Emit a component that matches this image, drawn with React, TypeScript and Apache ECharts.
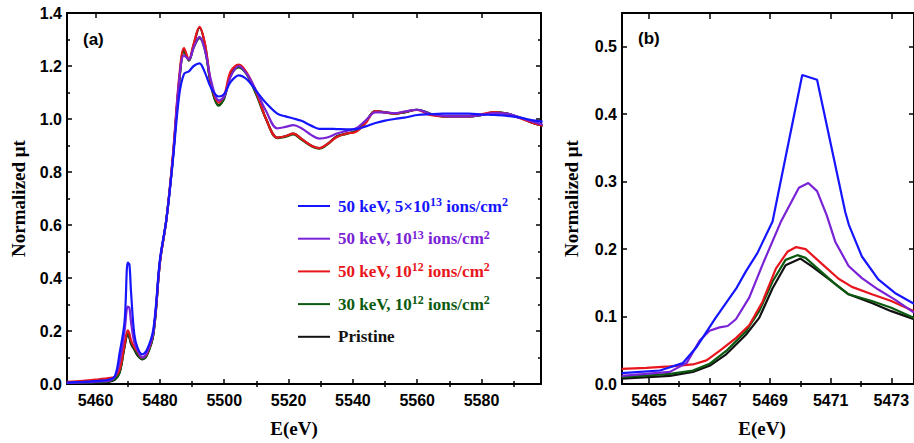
import React, { useEffect, useRef } from "react";
import * as echarts from "echarts";

const SERIF = "'Liberation Serif', 'Times New Roman', serif";
const SANS = "'Liberation Sans', Arial, sans-serif";

// Sample legend labels; "^" marks a superscript run
const seriesLabels = [
  "50 keV, 5×10^13 ions/cm^2",
  "50 keV, 10^13 ions/cm^2",
  "50 keV, 10^12 ions/cm^2",
  "30 keV, 10^12 ions/cm^2",
  "Pristine",
];
const seriesColors = ["#1515ff", "#7a22d6", "#e8161c", "#0c5a10", "#111111"];

// Panel (a): full XANES spectra on a shared energy grid (eV)
const energyA = [
  5451, 5456, 5461, 5464, 5466, 5467.5, 5469, 5470, 5470.5, 5471, 5472, 5473, 5474.5, 5476, 5478,
  5480, 5482, 5484, 5486, 5487.5, 5489, 5490.5, 5492.3, 5494, 5496, 5498.3, 5500, 5502, 5504.5,
  5507, 5510, 5513, 5516.5, 5519, 5521.5, 5524, 5527, 5529.5, 5532, 5535, 5538, 5541, 5544, 5547,
  5550, 5553, 5556, 5560, 5564, 5568, 5572, 5576, 5580, 5584, 5588, 5592, 5596, 5599,
];
const fullBlue = [
  0.005, 0.008, 0.012, 0.016, 0.03, 0.12, 0.235, 0.458, 0.451, 0.35, 0.19, 0.138, 0.112, 0.13, 0.21,
  0.47, 0.62, 0.84, 1.09, 1.17, 1.18, 1.2, 1.21, 1.175, 1.115, 1.085, 1.095, 1.14, 1.165,
  1.15, 1.105, 1.06, 1.02, 1.01, 1.002, 0.993, 0.975, 0.963, 0.963, 0.962, 0.961, 0.962, 0.972, 0.985,
  0.994, 1.0, 1.005, 1.015, 1.018, 1.02, 1.02, 1.02, 1.017, 1.015, 1.012, 1.005, 0.995, 0.99,
];
const fullPurple = [
  0.004, 0.006, 0.009, 0.012, 0.028, 0.086, 0.2, 0.292, 0.288, 0.235, 0.158, 0.128, 0.1, 0.12, 0.2,
  0.46, 0.62, 0.85, 1.15, 1.24, 1.225, 1.27, 1.31, 1.26, 1.14, 1.07, 1.085, 1.16, 1.2,
  1.17, 1.105, 1.03, 0.965, 0.97, 0.977, 0.965, 0.94, 0.926, 0.93, 0.945, 0.955, 0.965, 0.995, 1.025,
  1.025, 1.022, 1.028, 1.035, 1.02, 1.012, 1.01, 1.01, 1.015, 1.022, 1.02, 1.005, 0.99, 0.978,
];
const fullRed = [
  0.008, 0.012, 0.018, 0.022, 0.028, 0.055, 0.15, 0.202, 0.19, 0.165, 0.14, 0.123, 0.1, 0.115, 0.2,
  0.46, 0.62, 0.86, 1.16, 1.268, 1.225, 1.285, 1.348, 1.285, 1.13, 1.062, 1.09, 1.18, 1.205,
  1.175, 1.1, 1.0, 0.93, 0.935, 0.945, 0.925, 0.9, 0.89, 0.905, 0.932, 0.945, 0.952, 0.985, 1.03,
  1.025, 1.02, 1.027, 1.034, 1.015, 1.01, 1.01, 1.01, 1.018, 1.026, 1.018, 1.003, 0.985, 0.975,
];
const fullGreen = [
  0.004, 0.006, 0.007, 0.009, 0.018, 0.045, 0.145, 0.19, 0.178, 0.158, 0.133, 0.114, 0.095, 0.11, 0.19,
  0.46, 0.62, 0.85, 1.14, 1.255, 1.222, 1.27, 1.305, 1.26, 1.125, 1.05, 1.078, 1.165, 1.195,
  1.168, 1.09, 1.0, 0.928, 0.932, 0.942, 0.922, 0.898, 0.888, 0.903, 0.933, 0.944, 0.955, 0.99, 1.03,
  1.025, 1.02, 1.025, 1.035, 1.02, 1.01, 1.01, 1.01, 1.015, 1.025, 1.02, 1.005, 0.985, 0.975,
];
const fullBlack = [
  0.005, 0.006, 0.007, 0.008, 0.016, 0.045, 0.14, 0.186, 0.175, 0.152, 0.13, 0.108, 0.093, 0.11, 0.19,
  0.46, 0.62, 0.85, 1.14, 1.262, 1.22, 1.28, 1.345, 1.28, 1.12, 1.052, 1.08, 1.17, 1.2,
  1.17, 1.1, 1.0, 0.93, 0.935, 0.945, 0.925, 0.9, 0.89, 0.905, 0.935, 0.945, 0.955, 0.99, 1.03,
  1.025, 1.02, 1.025, 1.035, 1.02, 1.01, 1.01, 1.01, 1.015, 1.025, 1.02, 1.005, 0.985, 0.975,
];

// Panel (b): pre-edge region, [energy eV, normalized µt]
const zoomBlue = [
  [5464.1, 0.016], [5465.36, 0.02], [5466.12, 0.031], [5466.56, 0.054], [5467.2, 0.098],
  [5467.9, 0.143], [5468.2, 0.167], [5468.58, 0.194], [5469.08, 0.241], [5470.06, 0.458],
  [5470.55, 0.451], [5471.48, 0.255], [5471.6, 0.236], [5472.03, 0.189], [5472.57, 0.155],
  [5473.12, 0.135], [5473.75, 0.119],
];
const zoomPurple = [
  [5464.1, 0.012], [5465.69, 0.018], [5466.24, 0.031], [5466.67, 0.064], [5467.0, 0.079],
  [5467.33, 0.084], [5467.6, 0.086], [5467.87, 0.096], [5468.31, 0.128], [5468.75, 0.177],
  [5469.35, 0.24], [5469.95, 0.291], [5470.26, 0.298], [5470.55, 0.286], [5470.87, 0.25],
  [5471.15, 0.211], [5471.59, 0.175], [5472.03, 0.157], [5472.57, 0.14], [5473.12, 0.125],
  [5473.75, 0.106],
];
const zoomRed = [
  [5464.1, 0.0225], [5464.92, 0.024], [5465.69, 0.026], [5466.45, 0.029], [5466.9, 0.035],
  [5467.33, 0.049], [5467.87, 0.068], [5468.31, 0.087], [5468.75, 0.122], [5469.19, 0.171],
  [5469.57, 0.196], [5469.86, 0.203], [5470.17, 0.2], [5470.71, 0.178], [5471.26, 0.156],
  [5471.7, 0.144], [5472.36, 0.133], [5473.0, 0.123], [5473.75, 0.108],
];
const zoomGreen = [
  [5464.1, 0.01], [5465.69, 0.015], [5466.45, 0.02], [5467.0, 0.03], [5467.55, 0.049],
  [5468.2, 0.078], [5468.64, 0.108], [5469.08, 0.152], [5469.51, 0.184], [5469.9, 0.191],
  [5470.17, 0.187], [5470.6, 0.17], [5471.15, 0.148], [5471.59, 0.133], [5472.36, 0.123],
  [5473.0, 0.113], [5473.75, 0.098],
];
const zoomBlack = [
  [5464.1, 0.008], [5465.69, 0.012], [5466.45, 0.018], [5467.0, 0.027], [5467.55, 0.044],
  [5468.2, 0.073], [5468.64, 0.098], [5469.08, 0.142], [5469.51, 0.176], [5470.0, 0.186],
  [5470.39, 0.174], [5471.04, 0.152], [5471.59, 0.133], [5472.36, 0.12], [5473.0, 0.108],
  [5473.75, 0.096],
];

// Axis ticks and labels
const ticksA = [5460, 5480, 5500, 5520, 5540, 5560, 5580];
const minorTicksA = [5470, 5490, 5510, 5530, 5550, 5570, 5590];
const ticksB = [5465, 5467, 5469, 5471, 5473];
const minorTicksB = [5466, 5468, 5470, 5472];
const yTicksB = [0, 0.1, 0.2, 0.3, 0.4, 0.5];

const fullSets = [fullBlue, fullPurple, fullRed, fullGreen, fullBlack];
const zoomSets = [zoomBlue, zoomPurple, zoomRed, zoomGreen, zoomBlack];

const nameStyle = { fontFamily: SERIF, fontWeight: "bold", fontSize: 19, color: "#000" };
const tickLabel = { color: "#000", fontFamily: SANS, fontWeight: "bold", fontSize: 16 };
const axisLineStyle = { color: "#000", width: 2 };
const tickLineStyle = { color: "#000", width: 1.5 };

function xAxis(
  gridIndex: number, min: number, max: number, position: "top" | "bottom",
  ticks: number[], len: number, labels?: number[], name?: string, shift = 0
) {
  return {
    type: "value", gridIndex, min, max, position,
    axisLine: { show: true, onZero: false, lineStyle: axisLineStyle },
    axisTick: { show: true, inside: true, length: len, customValues: ticks, lineStyle: tickLineStyle },
    axisLabel: labels
      ? { show: true, customValues: labels, margin: 8, ...tickLabel, formatter: (v: number) => String(v) }
      : { show: false },
    splitLine: { show: false },
    name: name || "",
    nameLocation: "middle",
    nameGap: 35,
    nameTextStyle: { ...nameStyle, padding: [0, shift, 0, 0] },
  };
}

const App: React.FC = () => {
  const ref = useRef<HTMLDivElement>(null);

  useEffect(() => {
    if (!ref.current) return;
    const chart = echarts.init(ref.current, undefined, { renderer: "svg" });
    const order = [4, 3, 2, 1, 0];
    const series: any[] = [];
    order.forEach((i) => {
      series.push({
        type: "line", name: seriesLabels[i], xAxisIndex: 0, yAxisIndex: 0,
        data: energyA.map((e, k) => [e, fullSets[i][k]]),
        smooth: 0.35, showSymbol: false, symbol: "none",
        lineStyle: { color: seriesColors[i], width: 2.2 }, itemStyle: { color: seriesColors[i] },
      });
    });
    order.forEach((i) => {
      series.push({
        type: "line", name: seriesLabels[i], xAxisIndex: 4, yAxisIndex: 2,
        data: zoomSets[i], showSymbol: false, symbol: "none",
        lineStyle: { color: seriesColors[i], width: 2.2 }, itemStyle: { color: seriesColors[i] },
      });
    });

    const supStyle = (c: string) => ({
      fontFamily: SERIF, fontWeight: "bold", fontSize: 12, lineHeight: 12, verticalAlign: "top", color: c,
    });

    chart.setOption({
      animation: false,
      backgroundColor: "#fff",
      grid: [
        { left: 67, top: 13, width: 474, height: 373 },
        { left: 622, top: 13, width: 293, height: 373 },
      ],
      xAxis: [
        xAxis(0, 5451.1, 5598.5, "bottom", ticksA, 5, ticksA, "E(eV)", 20),
        { ...xAxis(0, 5451.1, 5598.5, "bottom", minorTicksA, 3), axisLine: { show: false } },
        xAxis(0, 5451.1, 5598.5, "top", ticksA, 5),
        { ...xAxis(0, 5451.1, 5598.5, "top", minorTicksA, 3), axisLine: { show: false } },
        xAxis(1, 5464.11, 5473.75, "bottom", ticksB, 6, ticksB, "E(eV)", 12),
        { ...xAxis(1, 5464.11, 5473.75, "bottom", minorTicksB, 3), axisLine: { show: false } },
        xAxis(1, 5464.11, 5473.75, "top", ticksB, 6),
        { ...xAxis(1, 5464.11, 5473.75, "top", minorTicksB, 3), axisLine: { show: false } },
      ],
      yAxis: [
        {
          type: "value", gridIndex: 0, min: 0, max: 1.4, interval: 0.2, position: "left",
          axisLine: { show: true, onZero: false, lineStyle: axisLineStyle },
          axisTick: { show: true, inside: true, length: 5, lineStyle: tickLineStyle },
          minorTick: { show: true, splitNumber: 2, length: 3, lineStyle: tickLineStyle },
          axisLabel: { margin: 5, ...tickLabel, formatter: (v: number) => v.toFixed(1) },
          splitLine: { show: false }, minorSplitLine: { show: false },
          name: "Normalized μt", nameLocation: "middle", nameGap: 39, nameTextStyle: nameStyle,
        },
        {
          type: "value", gridIndex: 0, min: 0, max: 1.4, interval: 0.2, position: "right",
          axisLine: { show: true, onZero: false, lineStyle: axisLineStyle },
          axisTick: { show: true, inside: true, length: 5, lineStyle: tickLineStyle },
          minorTick: { show: true, splitNumber: 2, length: 3, lineStyle: tickLineStyle },
          axisLabel: { show: false }, splitLine: { show: false },
        },
        {
          type: "value", gridIndex: 1, min: 0, max: 0.55, position: "left",
          axisLine: { show: true, onZero: false, lineStyle: axisLineStyle },
          axisTick: { show: true, inside: true, length: 5, customValues: yTicksB, lineStyle: tickLineStyle },
          axisLabel: { margin: 5, customValues: yTicksB, ...tickLabel, formatter: (v: number) => v.toFixed(1) },
          splitLine: { show: false },
          name: "Normalized μt", nameLocation: "middle", nameGap: 41, nameTextStyle: nameStyle,
        },
        {
          type: "value", gridIndex: 1, min: 0, max: 0.55, position: "right",
          axisLine: { show: true, onZero: false, lineStyle: axisLineStyle },
          axisTick: { show: true, inside: true, length: 5, customValues: yTicksB, lineStyle: tickLineStyle },
          axisLabel: { show: false }, splitLine: { show: false },
        },
      ],
      legend: {
        orient: "vertical", left: 293, top: 191, itemWidth: 32, itemHeight: 2, itemGap: 12.7,
        icon: "rect", selectedMode: false,
        data: seriesLabels.map((n, i) => ({
          name: n,
          textStyle: { color: seriesColors[i], rich: { sup: supStyle(seriesColors[i]) } },
        })),
        formatter: (n: string) => n.replace(/\^(\d+)/g, "{sup|$1}"),
        textStyle: {
          fontFamily: SERIF, fontWeight: "bold", fontSize: 17, lineHeight: 20, padding: [0, 0, 0, 3],
        },
      },
      graphic: [
        { type: "text", left: 83, top: 31, style: { text: "(a)", font: `bold 17px ${SANS}`, fill: "#000" } },
        { type: "text", left: 638, top: 30, style: { text: "(b)", font: `bold 17px ${SANS}`, fill: "#000" } },
      ],
      series,
    });
    return () => chart.dispose();
  }, []);

  return (
    <div style={{ position: "fixed", left: 0, top: 0, width: 914, height: 443, background: "#fff", overflow: "hidden" }}>
      <div ref={ref} style={{ width: 914, height: 443 }} />
    </div>
  );
};

export default App;
